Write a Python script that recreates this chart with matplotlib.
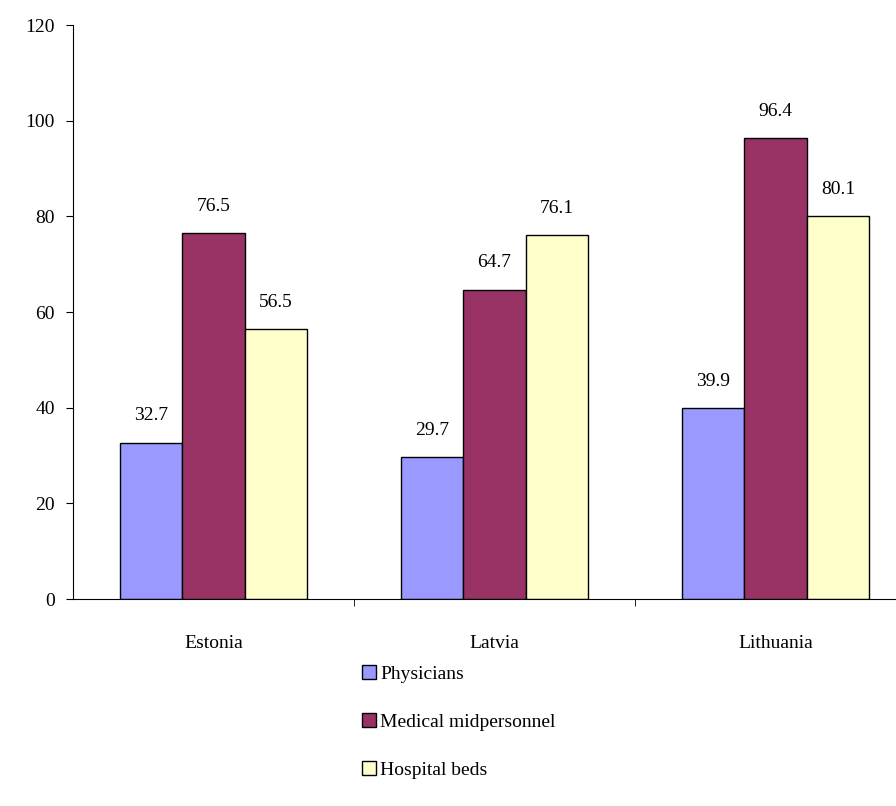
import matplotlib
import matplotlib.pyplot as plt
import numpy as np

matplotlib.use("Agg")

countries = ["Estonia", "Latvia", "Lithuania"]
series_names = ["Physicians", "Medical midpersonnel", "Hospital beds"]
physicians = [32.7, 29.7, 39.9]
midpersonnel = [76.5, 64.7, 96.4]
hospital_beds = [56.5, 76.1, 80.1]
colors = ["#9999FF", "#993366", "#FFFFCC"]

plt.rcParams["font.family"] = ["Liberation Serif", "DejaVu Serif"]

fig = plt.figure(figsize=(8.96, 8.06), dpi=100)
ax = fig.add_axes([73 / 896, 207 / 806, 843 / 896, 574 / 806])

x = np.arange(len(countries))
width = 0.222
handles = []
for i, (vals, name) in enumerate(zip([physicians, midpersonnel, hospital_beds], series_names)):
    bars = ax.bar(x + (i - 1) * width, vals, width, color=colors[i],
                  edgecolor="black", linewidth=1, label=name)
    handles.append(bars)
    for b, v in zip(bars, vals):
        ax.text(b.get_x() + b.get_width() / 2, v + 3.8, f"{v}",
                ha="center", va="bottom", fontsize=14)

ax.set_xlim(-0.5, 2.5)
ax.set_ylim(0, 120)
ax.set_yticks(range(0, 121, 20))
ax.set_xticks(x)
ax.set_xticklabels(countries, fontsize=14)
ax.set_xticks([0.5, 1.5], minor=True)
ax.tick_params(axis="x", which="major", length=0, pad=26)
ax.tick_params(axis="x", which="minor", length=5, direction="out")
ax.tick_params(axis="y", labelsize=14, length=5, direction="out", pad=8)
for s in ["top", "right"]:
    ax.spines[s].set_visible(False)

fig.legend(handles=handles, loc="upper left", bbox_to_anchor=(0.395, 0.185),
           frameon=False, fontsize=14, handlelength=0.75, handleheight=0.75,
           handletextpad=0.2, labelspacing=1.55, borderaxespad=0)

plt.savefig("out.png", dpi=100)
